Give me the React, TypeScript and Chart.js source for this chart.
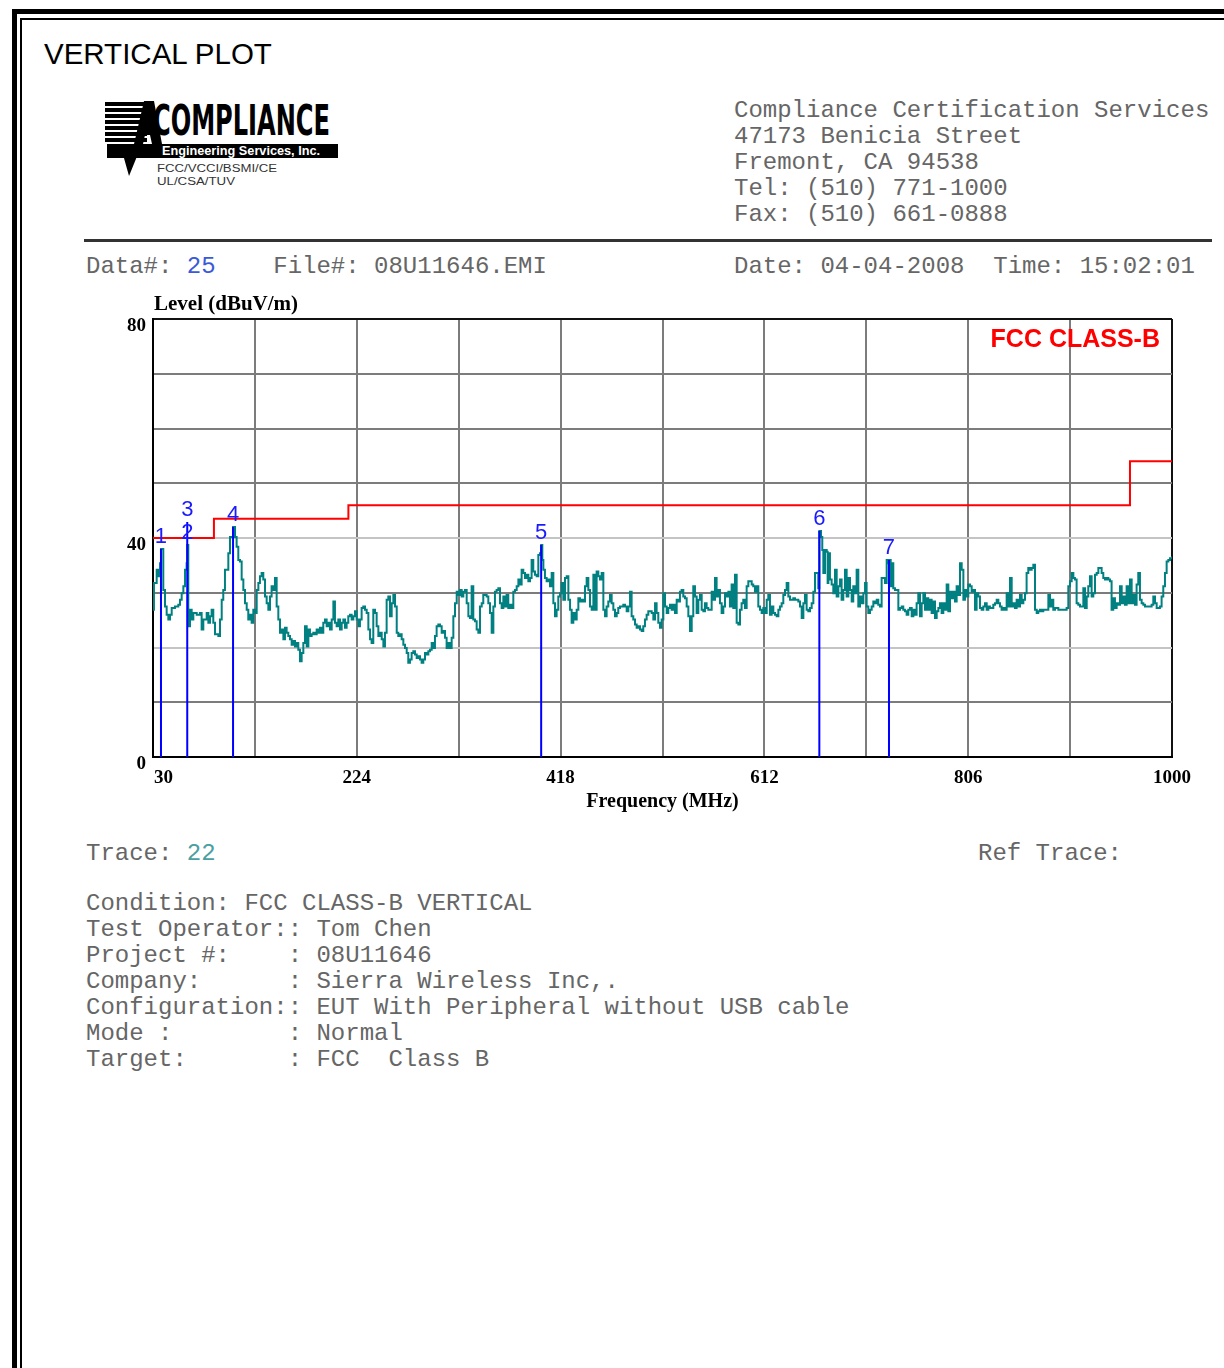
import React, { useEffect, useRef } from "react";
import { Chart, registerables } from "chart.js";

Chart.register(...registerables);

// Spectrum trace: [frequency MHz, level dBuV/m]
const traceReadings: [number, number][] = [
  [30.0, 26.9], [30.9, 31.8], [33.5, 34.2], [35.1, 33.0], [36.7, 35.4], [37.6, 38.0], [39.8, 30.5], [41.4, 27.5],
  [43.0, 26.0], [44.6, 25.1], [46.2, 26.0], [47.8, 27.2], [50.9, 27.5], [54.1, 27.8], [55.7, 28.7], [57.3, 29.9],
  [58.9, 31.2], [60.5, 34.2], [62.0, 35.4], [62.6, 38.7], [63.6, 23.9], [65.2, 26.9], [66.8, 25.1], [68.4, 26.3],
  [71.6, 26.0], [74.7, 26.3], [76.3, 23.3], [77.9, 25.1], [81.1, 26.3], [82.7, 24.5], [84.3, 25.7], [85.8, 26.9],
  [87.4, 24.5], [89.0, 22.4], [92.2, 22.1], [93.8, 25.1], [95.4, 28.7], [96.9, 30.5], [98.5, 34.2], [101.7, 37.2],
  [103.3, 40.2], [106.2, 42.0], [108.1, 40.2], [109.6, 38.4], [111.2, 36.0], [112.8, 35.7], [114.4, 32.4], [116.0, 30.5],
  [117.6, 28.1], [119.2, 26.9], [120.7, 25.1], [122.3, 26.0], [123.9, 24.5], [125.5, 26.9], [127.1, 26.3], [128.7, 30.5],
  [130.3, 31.8], [131.8, 33.0], [133.4, 33.6], [135.0, 32.4], [136.6, 29.3], [138.2, 28.1], [139.8, 26.9], [141.4, 29.3],
  [142.9, 31.2], [144.5, 30.5], [146.1, 32.7], [147.7, 27.5], [149.3, 25.1], [150.9, 22.7], [152.5, 23.3], [154.1, 21.5],
  [155.6, 23.6], [157.2, 22.7], [158.8, 22.1], [160.4, 21.5], [162.0, 20.5], [163.6, 21.2], [165.2, 20.2], [166.8, 20.8],
  [168.3, 19.6], [169.9, 17.5], [171.5, 19.0], [173.1, 20.8], [174.7, 23.9], [176.3, 20.2], [177.9, 23.3], [179.4, 22.1],
  [181.0, 22.4], [182.6, 22.7], [184.2, 22.4], [185.8, 23.3], [187.4, 22.7], [189.0, 23.6], [190.6, 22.7], [192.1, 24.5],
  [193.7, 25.1], [195.3, 23.9], [196.9, 24.5], [198.5, 23.3], [200.1, 25.1], [201.7, 28.4], [203.2, 24.5], [204.8, 23.9],
  [206.4, 25.1], [208.0, 23.3], [209.6, 24.5], [211.2, 25.1], [212.8, 23.6], [214.3, 24.5], [215.9, 25.7], [217.5, 26.0],
  [219.1, 25.1], [220.7, 25.7], [222.3, 26.6], [223.9, 25.1], [225.5, 23.9],
  [227.0, 25.1], [228.6, 27.2], [230.2, 27.5], [231.8, 26.9], [233.4, 26.3], [235.0, 23.3], [236.6, 21.5], [238.1, 20.8],
  [239.7, 26.9], [241.3, 26.3], [242.9, 23.9], [244.5, 22.1], [246.1, 22.7], [247.7, 21.5], [249.3, 20.2], [250.8, 22.7],
  [252.4, 28.7], [254.0, 29.3], [255.6, 25.7], [257.2, 28.1], [258.8, 29.6], [260.4, 27.5], [262.0, 22.7], [263.5, 22.1],
  [265.1, 22.4], [266.7, 21.5], [268.3, 20.5], [269.9, 19.9], [271.5, 19.0], [273.0, 17.2], [274.6, 17.8], [276.2, 19.0],
  [277.8, 19.3], [279.4, 18.7], [281.0, 18.1], [282.6, 18.4], [284.2, 17.8], [285.7, 17.2], [287.3, 17.8], [288.9, 19.0],
  [290.5, 18.7], [292.1, 19.3], [293.7, 19.6], [295.3, 20.8], [296.8, 19.9], [298.4, 22.1], [300.0, 23.9], [301.6, 24.2],
  [303.2, 23.9], [304.8, 22.7], [306.4, 23.0], [308.0, 21.8], [309.5, 19.9], [311.1, 20.8], [312.7, 19.9], [314.3, 21.8],
  [315.9, 25.7], [317.5, 28.1], [319.1, 30.2], [320.6, 29.6], [322.2, 30.5], [323.8, 29.3], [325.4, 30.2], [327.0, 30.5],
  [328.6, 28.1], [330.2, 25.7], [331.7, 25.4], [333.3, 31.2], [334.9, 25.1], [336.5, 24.8], [338.1, 23.3], [339.7, 22.7],
  [341.3, 27.5], [342.9, 28.1], [344.4, 29.6], [346.0, 29.6], [347.6, 29.3], [349.2, 28.1], [350.8, 26.3], [352.4, 22.7],
  [354.0, 27.5], [355.5, 30.2], [357.1, 30.5], [358.7, 30.8], [360.3, 28.1], [361.9, 27.2], [363.5, 29.3], [365.1, 27.5],
  [366.6, 29.6], [368.2, 27.2], [369.8, 27.8], [371.4, 27.2], [373.0, 30.2], [374.6, 30.5], [376.2, 31.2], [377.8, 32.4],
  [379.3, 31.5], [380.9, 34.2], [382.5, 33.6], [384.1, 32.7], [385.7, 33.3], [387.3, 32.1], [388.9, 32.7], [390.4, 36.0],
  [392.0, 33.9], [393.6, 33.3], [395.2, 33.0], [396.8, 36.9], [398.4, 37.2], [399.5, 38.7], [400.6, 36.0], [401.6, 34.2],
  [403.1, 32.7], [404.7, 32.1], [406.3, 32.4], [407.9, 31.2], [409.5, 33.6], [411.1, 28.1], [412.7, 25.7], [414.2, 26.9],
  [415.8, 29.3], [417.4, 29.9], [419.0, 31.8], [420.6, 28.7],
  [422.2, 32.7], [423.8, 33.0], [425.4, 28.7], [427.0, 26.9], [428.5, 24.5], [430.1, 26.3], [431.7, 25.1], [433.3, 26.9],
  [434.9, 29.0], [436.5, 28.4], [438.1, 28.7], [439.6, 28.4], [441.2, 31.2], [442.8, 32.7], [444.4, 30.5], [446.0, 27.5],
  [447.6, 26.9], [449.2, 33.3], [450.7, 26.9], [452.3, 33.9], [453.9, 33.0], [455.5, 32.4], [457.1, 33.6], [458.7, 26.9],
  [460.3, 25.7], [461.8, 27.5], [463.4, 28.4], [465.0, 29.6], [466.6, 28.1], [468.2, 26.9], [469.8, 25.7], [471.4, 26.3],
  [472.9, 27.2], [474.5, 27.5], [476.1, 27.5], [477.7, 27.8], [479.3, 27.5], [480.9, 26.6], [482.5, 27.5], [484.1, 30.2],
  [485.6, 25.7], [487.2, 25.1], [488.8, 24.2], [490.4, 23.6], [492.0, 23.9], [493.6, 23.3], [495.2, 23.0], [496.7, 23.9],
  [498.3, 25.1], [499.9, 26.0], [501.5, 26.6], [503.1, 26.6], [504.7, 26.3], [506.3, 25.1], [507.9, 28.1], [509.4, 26.3],
  [511.0, 24.5], [512.6, 23.6], [514.2, 25.1], [515.8, 29.9], [517.4, 27.5], [519.0, 26.3], [520.5, 27.2], [522.1, 27.8],
  [523.7, 26.9], [525.3, 27.8], [526.9, 26.3], [528.5, 28.7], [530.1, 28.4], [531.6, 30.2], [533.2, 30.5], [534.8, 29.3],
  [536.4, 29.0], [538.0, 27.5], [539.6, 25.7], [541.2, 23.0], [542.8, 25.7], [544.3, 31.2], [545.9, 29.3], [547.5, 26.3],
  [549.1, 28.7], [550.7, 29.6], [552.3, 26.9], [553.9, 26.6], [555.4, 28.1], [557.0, 27.2], [558.6, 26.9], [560.2, 26.9],
  [561.8, 30.2], [563.4, 28.7], [565.0, 32.7], [566.5, 29.3], [568.1, 30.5], [569.7, 28.1], [571.3, 26.3], [572.9, 27.5],
  [574.5, 29.9], [576.1, 29.3], [577.7, 30.2], [579.2, 27.5], [580.8, 31.5], [582.4, 27.2], [584.0, 33.3], [585.6, 24.5],
  [587.2, 24.2], [588.8, 26.9], [590.3, 28.1], [591.9, 28.7], [593.5, 27.2], [595.1, 31.2], [596.7, 32.1], [598.3, 32.1],
  [599.9, 31.5], [601.4, 31.2], [603.0, 30.2], [604.6, 31.2], [606.2, 27.5], [607.8, 26.9], [609.4, 26.3], [611.0, 27.2],
  [612.6, 26.3], [614.2, 28.7], [615.7, 29.6],
  [617.3, 26.0], [618.9, 27.5], [620.5, 26.3], [622.1, 26.0], [623.7, 25.7], [625.3, 26.9], [626.8, 27.5], [628.4, 28.1],
  [630.0, 29.6], [631.6, 30.5], [633.2, 31.8], [634.8, 29.3], [636.4, 28.7], [638.0, 28.7], [639.5, 29.0], [641.1, 28.7],
  [642.7, 28.7], [644.3, 28.4], [645.9, 27.5], [647.5, 25.4], [649.1, 28.1], [650.6, 29.6], [652.2, 26.9], [653.8, 26.6],
  [655.4, 27.2], [657.0, 28.1], [658.6, 30.2], [660.2, 33.6], [661.7, 33.6], [663.3, 30.8], [664.3, 41.3], [665.9, 40.2],
  [667.1, 37.8], [668.1, 33.6], [669.7, 37.8], [671.3, 37.5], [672.2, 31.8], [672.9, 37.2], [674.4, 32.4], [676.0, 31.5],
  [677.6, 29.9], [679.2, 34.2], [680.8, 29.3], [682.4, 31.2], [684.0, 32.4], [685.5, 28.7], [687.1, 30.5], [688.7, 34.2],
  [690.3, 29.3], [691.9, 32.7], [693.5, 30.5], [695.1, 28.4], [696.6, 31.2], [698.2, 29.9], [699.8, 34.2], [701.4, 27.5],
  [703.0, 29.3], [704.6, 28.1], [706.2, 29.9], [707.8, 31.8], [709.3, 27.5], [710.9, 26.3], [712.5, 26.9], [714.1, 27.5],
  [715.7, 28.4], [717.3, 28.1], [718.9, 28.7], [720.4, 27.8], [722.0, 27.5], [723.6, 32.7], [725.2, 32.7], [726.8, 31.8],
  [728.4, 36.0], [729.3, 35.4], [730.6, 36.0], [732.2, 31.2], [733.1, 35.4], [734.7, 30.8], [736.3, 30.5], [737.9, 30.5],
  [739.5, 26.9], [741.1, 27.2], [742.7, 27.5], [744.2, 26.9], [745.8, 26.6], [747.4, 26.0], [749.0, 26.9], [750.6, 27.2],
  [752.2, 25.7], [753.8, 26.9], [755.4, 26.0], [756.9, 28.1], [758.5, 29.9], [760.1, 25.7], [761.7, 28.1], [763.3, 29.9],
  [764.9, 26.9], [766.5, 29.0], [768.0, 26.9], [769.6, 28.7], [771.2, 26.3], [772.8, 28.4], [774.4, 25.4], [776.0, 26.6],
  [777.6, 27.2], [779.1, 28.1], [780.7, 26.3], [782.3, 28.1], [783.9, 26.9], [785.5, 31.5], [787.1, 26.6], [788.7, 30.2],
  [790.2, 29.0], [791.8, 30.2], [793.4, 28.4], [795.0, 31.2], [796.6, 29.6], [798.2, 35.4], [799.8, 34.2], [801.4, 28.7],
  [802.9, 30.5], [804.5, 29.3], [806.1, 31.5], [807.7, 31.2], [809.3, 30.2], [810.9, 30.5],
  [812.5, 26.9], [814.0, 29.9], [815.6, 29.3], [817.2, 27.2], [818.8, 26.9], [820.4, 27.5], [822.0, 28.1], [823.6, 26.9],
  [825.2, 27.5], [826.7, 27.2], [828.3, 27.2], [829.9, 27.8], [831.5, 28.1], [833.1, 28.7], [834.7, 28.1], [836.3, 27.5],
  [837.8, 26.9], [839.4, 27.2], [841.0, 26.9], [842.6, 29.9], [844.2, 27.5], [845.8, 32.7], [847.4, 27.5], [848.9, 28.1],
  [850.5, 27.2], [852.1, 28.7], [853.7, 27.5], [855.3, 29.6], [856.9, 28.1], [858.5, 28.7], [860.1, 29.9], [861.6, 33.6],
  [863.2, 34.5], [864.8, 34.2], [866.4, 34.5], [868.0, 35.1], [869.6, 26.9], [871.2, 26.3], [872.7, 26.6], [874.3, 26.9],
  [875.9, 26.6], [877.5, 26.9], [879.1, 26.9], [880.7, 26.9], [882.3, 29.6], [883.9, 27.5], [885.4, 28.7], [887.0, 26.9],
  [888.6, 27.2], [890.2, 27.2], [891.8, 26.9], [893.4, 26.9], [895.0, 26.9], [896.5, 26.9], [898.1, 26.9], [899.7, 27.2],
  [901.3, 31.2], [902.9, 32.1], [904.5, 33.6], [906.1, 32.7], [907.6, 32.4], [909.2, 28.1], [910.8, 27.8], [912.4, 27.5],
  [914.0, 27.5], [915.6, 30.8], [917.2, 27.2], [918.8, 29.3], [920.3, 31.2], [921.9, 33.0], [923.5, 29.3], [925.1, 29.9],
  [926.7, 33.3], [928.3, 33.6], [929.9, 34.5], [931.4, 34.5], [933.0, 33.6], [934.6, 32.7], [936.2, 32.4], [937.8, 32.7],
  [939.4, 32.4], [941.0, 32.1], [942.5, 26.9], [944.1, 29.0], [945.7, 27.2], [947.3, 28.1], [948.9, 27.8], [950.5, 31.2],
  [952.1, 28.1], [953.7, 29.3], [955.2, 27.8], [956.8, 31.2], [958.4, 28.1], [960.0, 32.4], [961.6, 28.1], [963.2, 29.6],
  [964.8, 27.8], [966.3, 31.5], [967.9, 33.6], [969.5, 28.7], [971.1, 28.1], [972.7, 27.8], [974.3, 27.5], [975.9, 27.5],
  [977.4, 27.5], [979.0, 27.5], [980.6, 27.8], [982.2, 29.3], [983.8, 28.1], [985.4, 27.2], [987.0, 27.2], [988.5, 27.5],
  [990.1, 29.3], [991.7, 31.2], [993.3, 33.6], [994.9, 35.7], [996.5, 36.0], [998.1, 36.3], [1000.0, 36.6],
];

// FCC Class B limit (step starts)
const limitFreq = [30, 88, 216, 960, 1000];
const limitLevel = [40, 43.5, 46, 54, 54];

// Peak markers
const markerIds = ["1", "2", "3", "4", "5", "6", "7"];
const markerFreq = [37.6, 62.6, 62.6, 106.2, 399.5, 664.3, 730.6];
const markerLevel = [38.0, 38.7, 42.9, 42.0, 38.7, 41.3, 36.0];

// Axes
const freqGrid = [30, 127, 224, 321, 418, 515, 612, 709, 806, 903, 1000];
const freqTickLabels = ["30", "", "224", "", "418", "", "612", "", "806", "", "1000"];
const levelGrid = [0, 10, 20, 30, 40, 50, 60, 70, 80];
const levelTickLabels = ["0", "", "", "", "40", "", "", "", "80"];
const levelTitle = "Level (dBuV/m)";
const freqTitle = "Frequency (MHz)";
const limitName = "FCC CLASS-B";

// Report text
const pageTitle = "VERTICAL PLOT";
const headerLines = [
  "Compliance Certification Services",
  "47173 Benicia Street",
  "Fremont, CA 94538",
  "Tel: (510) 771-1000",
  "Fax: (510) 661-0888",
];
const dataNumber = "25";
const fileName = "08U11646.EMI";
const testDate = "04-04-2008";
const testTime = "15:02:01";
const traceNumber = "22";
const conditionLines = [
  "Condition: FCC CLASS-B VERTICAL",
  "Test Operator:: Tom Chen",
  "Project #:    : 08U11646",
  "Company:      : Sierra Wireless Inc,.",
  "Configuration:: EUT With Peripheral without USB cable",
  "Mode :        : Normal",
  "Target:       : FCC  Class B",
];

const MONO = "'Liberation Mono', 'Courier New', monospace";
const SERIF = "'Liberation Serif', 'Times New Roman', serif";
const SANS = "'Liberation Sans', Arial, sans-serif";

const plotLabels = {
  id: "plotLabels",
  afterDatasetsDraw(chart: any) {
    const { ctx, chartArea } = chart;
    const xs = chart.scales.x;
    const ys = chart.scales.y;
    ctx.save();
    ctx.fillStyle = "#000";
    ctx.font = `bold 21px ${SERIF}`;
    ctx.textAlign = "left";
    ctx.textBaseline = "alphabetic";
    ctx.fillText(levelTitle, chartArea.left + 1, chartArea.top - 9);

    // frequency tick labels; the first one starts at the axis
    ctx.font = `bold 19px ${SERIF}`;
    ctx.textBaseline = "middle";
    freqGrid.forEach((v, i) => {
      const label = freqTickLabels[i];
      if (!label) return;
      ctx.textAlign = i === 0 ? "left" : "center";
      ctx.fillText(label, xs.getPixelForValue(v) + (i === 0 ? 1 : 0), chartArea.bottom + 21);
    });

    ctx.fillStyle = "#1a1aff";
    ctx.font = `22px ${SANS}`;
    ctx.textAlign = "center";
    ctx.textBaseline = "middle";
    markerIds.forEach((id, i) => {
      ctx.fillText(id, xs.getPixelForValue(markerFreq[i]), ys.getPixelForValue(markerLevel[i]) - 12);
    });

    ctx.fillStyle = "#ff0000";
    ctx.font = `bold 25px ${SANS}`;
    ctx.textAlign = "right";
    ctx.fillText(limitName, chartArea.right - 12, chartArea.top + 21);
    ctx.restore();
  },
};

function EmissionChart() {
  const canvasRef = useRef<HTMLCanvasElement | null>(null);

  useEffect(() => {
    const canvas = canvasRef.current;
    if (!canvas) return;

    const markerSegments: any[] = [];
    markerFreq.forEach((f, i) => {
      markerSegments.push({ x: f, y: 0 }, { x: f, y: markerLevel[i] }, { x: f, y: null });
    });

    const chart = new Chart(canvas, {
      type: "line",
      data: {
        datasets: [
          {
            label: "Markers",
            data: markerSegments,
            borderColor: "#0000ff",
            borderWidth: 2,
            pointRadius: 0,
            spanGaps: false,
          },
          {
            label: limitName,
            data: limitFreq.map((f, i) => ({ x: f, y: limitLevel[i] })),
            borderColor: "#ff0000",
            borderWidth: 2,
            pointRadius: 0,
            stepped: "before",
          },
          {
            label: "Trace",
            data: traceReadings.map(([f, l]) => ({ x: f, y: l })),
            borderColor: "#008080",
            borderWidth: 2,
            pointRadius: 0,
            stepped: true,
          },
        ],
      },
      options: {
        responsive: false,
        animation: false,
        events: [],
        layout: { padding: { left: 0, top: 39, right: 38, bottom: 0 } },
        plugins: { legend: { display: false }, tooltip: { enabled: false } },
        scales: {
          x: {
            type: "linear",
            min: 30,
            max: 1000,
            afterBuildTicks: (s: any) => {
              s.ticks = freqGrid.map((v) => ({ value: v }));
            },
            afterFit: (s: any) => {
              s.height = 73;
            },
            ticks: {
              display: false,
              autoSkip: false,
              maxRotation: 0,
              callback: (_v: any, i: number) => freqTickLabels[i],
            },
            grid: {
              drawTicks: false,
              lineWidth: 2,
              color: (c: any) => (c.tick && c.tick.value === 1000 ? "#111" : "#7c7c7c"),
            },
            border: { display: true, color: "#000", width: 2 },
            title: {
              display: true,
              text: freqTitle,
              color: "#000",
              font: { family: SERIF, size: 20, weight: "bold" },
              padding: { top: 0, bottom: 16 },
            },
          },
          y: {
            type: "linear",
            min: 0,
            max: 80,
            afterBuildTicks: (s: any) => {
              s.ticks = levelGrid.map((v) => ({ value: v }));
            },
            afterFit: (s: any) => {
              s.width = 93;
            },
            ticks: {
              autoSkip: false,
              padding: 7,
              labelOffset: 7,
              color: "#000",
              font: { family: SERIF, size: 19, weight: "bold" },
              callback: (_v: any, i: number) => levelTickLabels[i],
            },
            grid: {
              drawTicks: false,
              lineWidth: 2,
              color: (c: any) => {
                const v = c.tick ? c.tick.value : -1;
                if (v === 80) return "#111";
                if (v === 20 || v === 40) return "#c4c4c4";
                return "#7c7c7c";
              },
            },
            border: { display: true, color: "#000", width: 2 },
          },
        },
      },
      plugins: [plotLabels],
    } as any);

    return () => chart.destroy();
  }, []);

  return (
    <canvas
      ref={canvasRef}
      width={1150}
      height={550}
      style={{ position: "absolute", left: 60, top: 280, width: 1150, height: 550 }}
    />
  );
}

function Logo() {
  const stripeRows = [7, 13, 19, 25, 31, 37, 43];
  return (
    <svg width={250} height={95} style={{ position: "absolute", left: 100, top: 95 }}>
      {stripeRows.map((y) => (
        <rect key={y} x={5} y={y} width={42} height={4} fill="#000" />
      ))}
      <polygon points="44,6 54,6 62,49 52,49 50,40 45,40 43,49 34,49" fill="#000" />
      <polygon points="20,49 42,49 29,81" fill="#000" />
      <text
        x={53}
        y={40}
        fontFamily="'DejaVu Sans Condensed', 'DejaVu Sans', sans-serif"
        fontWeight="bold"
        fontSize={43}
        textLength={177}
        lengthAdjust="spacingAndGlyphs"
        fill="#000"
      >
        COMPLIANCE
      </text>
      <rect x={7} y={49} width={231} height={14} fill="#000" />
      <text
        x={62}
        y={60}
        fontFamily={SANS}
        fontWeight="bold"
        fontSize={12}
        textLength={158}
        lengthAdjust="spacingAndGlyphs"
        fill="#fff"
      >
        Engineering Services, Inc.
      </text>
      <text x={57} y={77} fontFamily={SANS} fontSize={10} textLength={120} lengthAdjust="spacingAndGlyphs" fill="#333">
        FCC/VCCI/BSMI/CE
      </text>
      <text x={57} y={90} fontFamily={SANS} fontSize={10} textLength={78} lengthAdjust="spacingAndGlyphs" fill="#333">
        UL/CSA/TUV
      </text>
    </svg>
  );
}

export default function App() {
  const mono: React.CSSProperties = {
    position: "absolute",
    fontFamily: MONO,
    fontSize: 24,
    lineHeight: "26px",
    color: "#666",
    whiteSpace: "pre",
    margin: 0,
  };
  return (
    <div
      style={{
        position: "absolute",
        left: 0,
        top: 0,
        width: 1224,
        height: 1368,
        overflow: "hidden",
        background: "#fff",
      }}
    >
      <div style={{ position: "absolute", left: 12, top: 9, width: 1400, height: 1500, border: "5px solid #000" }} />
      <div style={{ position: "absolute", left: 20, top: 18, width: 1400, height: 1500, border: "2px solid #000" }} />

      <div
        style={{
          position: "absolute",
          left: 44,
          top: 39,
          fontFamily: SANS,
          fontSize: 29.5,
          lineHeight: "29px",
          color: "#000",
          whiteSpace: "pre",
        }}
      >
        {pageTitle}
      </div>

      <Logo />

      <div style={{ ...mono, left: 734, top: 98 }}>
        {headerLines.map((l) => (
          <div key={l}>{l}</div>
        ))}
      </div>

      <div style={{ position: "absolute", left: 84, top: 239, width: 1128, height: 3, background: "#333" }} />

      <div style={{ ...mono, left: 86, top: 254 }}>
        {"Data#: "}
        <span style={{ color: "#3a5ad8" }}>{dataNumber}</span>
        {"    File#: " + fileName}
      </div>
      <div style={{ ...mono, left: 734, top: 254 }}>{"Date: " + testDate + "  Time: " + testTime}</div>

      <EmissionChart />

      <div style={{ ...mono, left: 86, top: 841 }}>
        {"Trace: "}
        <span style={{ color: "#4aa0a0" }}>{traceNumber}</span>
      </div>
      <div style={{ ...mono, left: 978, top: 841 }}>{"Ref Trace:"}</div>

      <div style={{ ...mono, left: 86, top: 891 }}>
        {conditionLines.map((l) => (
          <div key={l}>{l}</div>
        ))}
      </div>
    </div>
  );
}
